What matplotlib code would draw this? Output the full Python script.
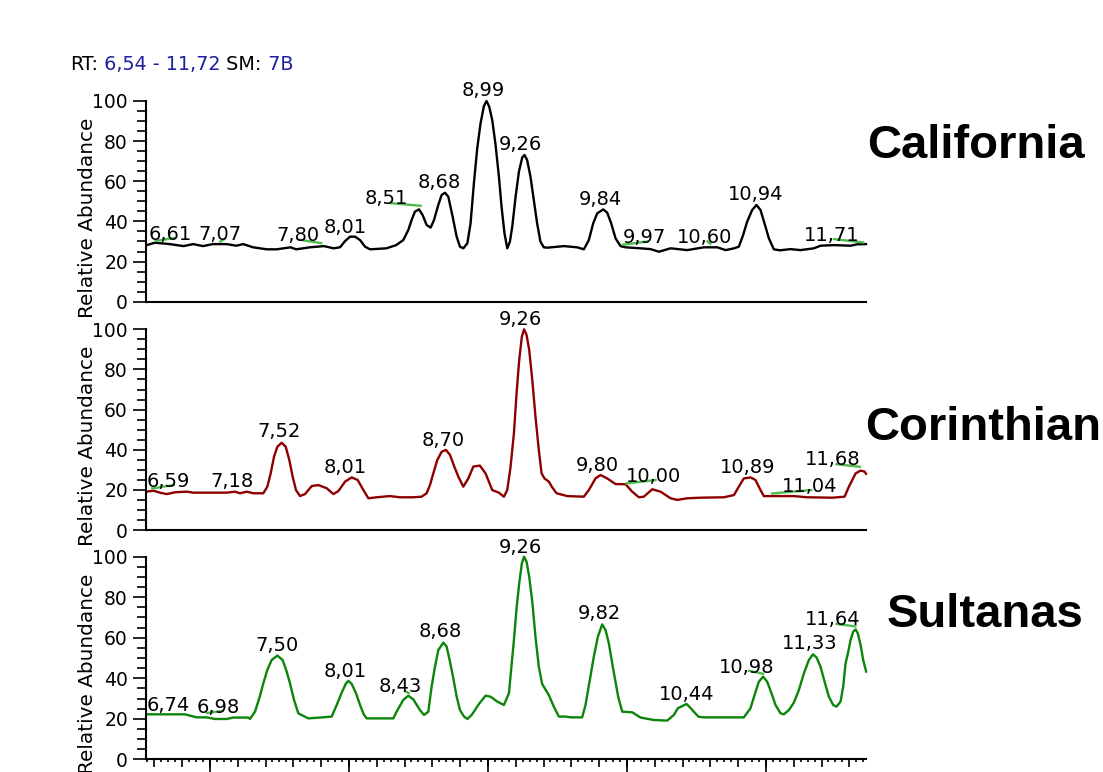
import matplotlib
matplotlib.use("Agg")
import matplotlib.pyplot as plt
from matplotlib.ticker import MultipleLocator

RT_MIN, RT_MAX = 6.54, 11.72

# California trace (RT in min, relative abundance)
cal_t = [6.545, 6.605, 6.71, 6.81, 6.88, 6.95, 7.02, 7.12, 7.19, 7.24, 7.31, 7.41, 7.48, 7.58, 7.62, 7.72,
         7.82, 7.89, 7.936, 7.972, 8.008, 8.044, 8.08, 8.116, 8.152, 8.27, 8.34, 8.391, 8.427, 8.451, 8.475,
         8.504, 8.53, 8.559, 8.588, 8.612, 8.643, 8.667, 8.691, 8.715, 8.746, 8.775, 8.799, 8.823, 8.852,
         8.875, 8.899, 8.923, 8.947, 8.971, 8.99, 9.009, 9.031, 9.055, 9.079, 9.098, 9.119, 9.139, 9.158,
         9.175, 9.199, 9.223, 9.247, 9.263, 9.282, 9.306, 9.33, 9.354, 9.378, 9.402, 9.426, 9.546, 9.642,
         9.69, 9.726, 9.757, 9.786, 9.829, 9.858, 9.887, 9.918, 9.954, 9.99, 10.098, 10.17, 10.23, 10.314,
         10.434, 10.553, 10.65, 10.71, 10.77, 10.805, 10.836, 10.865, 10.901, 10.932, 10.961, 10.99, 11.021,
         11.057, 11.1, 11.177, 11.249, 11.345, 11.393, 11.489, 11.609, 11.657, 11.72]
cal_y = [28.2, 29.4, 28.7, 27.7, 28.7, 27.7, 28.7, 28.7, 27.9, 28.7, 27.1, 26.1, 26.1, 27.1, 26.1, 27.1,
         27.7, 26.6, 27.1, 30.2, 32.4, 32.4, 30.7, 27.4, 26.1, 26.6, 28.2, 30.7, 35.7, 40.7, 44.9,
         46.0, 43.2, 38.2, 36.9, 40.7, 48.2, 53.2, 54.3, 52.3, 42.4, 32.4, 27.4, 26.6, 29.1,
         39.0, 59.0, 76.4, 88.9, 97.5, 100.0, 97.2, 90.5, 78.1, 62.3, 47.3, 34.1, 26.6, 29.9,
         37.4, 52.3, 64.8, 71.9, 73.1, 70.6, 62.3, 50.7, 39.0, 29.9, 27.1, 26.9, 27.7, 27.1,
         26.1, 30.7, 39.0, 44.0, 46.0, 44.4, 39.0, 31.6, 27.7, 27.1, 26.6, 26.2, 24.9, 26.6,
         25.7, 27.1, 27.1, 25.7, 26.6, 27.4, 33.2, 39.9, 45.7, 48.2, 45.7, 39.0, 31.6,
         26.1, 25.6, 26.2, 25.7, 26.6, 27.9, 28.2, 27.9, 28.6, 28.7]
cal_lab = ["6,61", "7,07", "7,80", "8,01", "8,51", "8,68", "8,99", "9,26", "9,84", "9,97", "10,60", "10,94", "11,71"]
cal_lab_t = [6.713, 7.075, 7.636, 7.976, 8.269, 8.648, 8.966, 9.235, 9.812, 10.124, 10.556, 10.923, 11.474]
cal_lab_y = [30.7, 30.7, 30.2, 34.4, 48.7, 56.5, 102.5, 75.6, 48.2, 29.4, 29.4, 50.7, 30.4]
cal_base = [(6.61, 30.3, 6.74, 31.7), (7.076, 30.0, 7.105, 31.2), (7.65, 30.8, 7.80, 29.2),
            (8.30, 49.1, 8.515, 47.8), (9.973, 28.4, 10.146, 30.0), (10.58, 30.0, 10.60, 28.9),
            (11.49, 31.2, 11.70, 29.5)]

# Corinthian trace
cor_t = [6.545, 6.593, 6.64, 6.689, 6.749, 6.833, 6.88, 7.0, 7.12, 7.18, 7.216, 7.264, 7.312, 7.384, 7.413,
         7.437, 7.461, 7.485, 7.516, 7.545, 7.571, 7.595, 7.619, 7.648, 7.684, 7.732, 7.78, 7.84, 7.888,
         7.924, 7.972, 8.02, 8.063, 8.104, 8.14, 8.199, 8.295, 8.367, 8.463, 8.523, 8.559, 8.583, 8.607,
         8.636, 8.667, 8.698, 8.727, 8.758, 8.787, 8.823, 8.859, 8.895, 8.942, 8.983, 9.031, 9.079, 9.115,
         9.139, 9.163, 9.187, 9.206, 9.225, 9.244, 9.26, 9.278, 9.297, 9.319, 9.342, 9.366, 9.386, 9.407,
         9.438, 9.462, 9.494, 9.57, 9.69, 9.726, 9.774, 9.81, 9.858, 9.918, 9.99, 10.038, 10.086, 10.122,
         10.182, 10.242, 10.314, 10.362, 10.434, 10.53, 10.697, 10.77, 10.805, 10.841, 10.89, 10.925,
         10.961, 10.985, 11.057, 11.201, 11.297, 11.477, 11.566, 11.597, 11.645, 11.681, 11.71, 11.72]
cor_y = [19.1, 19.6, 18.6, 17.9, 18.8, 19.1, 18.6, 18.6, 18.6, 19.1, 18.3, 19.1, 18.3, 18.3, 21.6,
         28.2, 36.5, 41.5, 43.5, 41.5, 34.9, 26.6, 19.9, 16.9, 17.9, 21.9, 22.4, 20.8, 17.9,
         19.4, 24.1, 26.2, 24.9, 19.9, 15.8, 16.3, 16.9, 16.3, 16.3, 16.6, 18.3, 22.4, 28.2,
         34.9, 39.0, 39.9, 37.4, 31.6, 26.6, 21.6, 25.7, 31.6, 32.1, 28.2, 19.9, 18.6, 16.6,
         19.9, 31.6, 48.2, 68.1, 84.7, 96.3, 100.0, 97.2, 89.7, 74.8, 56.5, 39.9, 28.2, 25.7,
         24.1, 21.3, 18.3, 16.9, 16.6, 19.9, 25.7, 27.4, 25.7, 22.9, 22.8, 19.1, 16.3, 16.6,
         20.3, 19.1, 15.8, 15.0, 15.8, 16.1, 16.3, 17.4, 21.6, 25.7, 26.2, 24.9,
         19.9, 16.9, 16.9, 16.9, 16.3, 16.1, 16.6, 21.6, 28.2, 29.6, 29.1, 28.0]
cor_lab = ["6,59", "7,18", "7,52", "8,01", "8,70", "9,26", "9,80", "10,00", "10,89", "11,04", "11,68"]
cor_lab_t = [6.703, 7.156, 7.499, 7.972, 8.677, 9.235, 9.786, 10.194, 10.87, 11.314, 11.482]
cor_lab_y = [21.6, 21.3, 46.5, 28.2, 42.0, 102.2, 29.6, 24.1, 28.2, 19.1, 32.4]
cor_base = [(6.585, 20.7, 6.74, 22.4), (9.997, 23.2, 10.206, 24.9), (11.045, 18.2, 11.326, 19.9),
            (11.508, 32.8, 11.675, 31.5)]

# Sultanas trace
sul_t = [6.545, 6.64, 6.82, 6.905, 6.976, 7.036, 7.12, 7.168, 7.276, 7.288, 7.324, 7.355, 7.384, 7.413,
         7.444, 7.485, 7.523, 7.552, 7.576, 7.605, 7.636, 7.672, 7.708, 7.792, 7.876, 7.912, 7.948, 7.979,
         7.996, 8.02, 8.051, 8.08, 8.108, 8.128, 8.224, 8.319, 8.343, 8.391, 8.427, 8.463, 8.511, 8.54,
         8.571, 8.595, 8.619, 8.643, 8.679, 8.703, 8.727, 8.751, 8.775, 8.799, 8.828, 8.852, 8.883, 8.899,
         8.935, 8.983, 9.019, 9.067, 9.115, 9.151, 9.167, 9.187, 9.206, 9.225, 9.244, 9.26, 9.278, 9.297,
         9.319, 9.342, 9.366, 9.39, 9.414, 9.438, 9.474, 9.51, 9.558, 9.594, 9.678, 9.702, 9.733, 9.762,
         9.791, 9.822, 9.846, 9.87, 9.894, 9.911, 9.937, 9.966, 10.038, 10.098, 10.194, 10.29, 10.338,
         10.366, 10.405, 10.429, 10.455, 10.481, 10.515, 10.553, 10.841, 10.889, 10.918, 10.949, 10.98,
         11.009, 11.04, 11.069, 11.105, 11.129, 11.165, 11.201, 11.237, 11.273, 11.309, 11.338, 11.364,
         11.393, 11.422, 11.453, 11.484, 11.508, 11.537, 11.556, 11.573, 11.59, 11.609, 11.628, 11.645,
         11.661, 11.681, 11.7, 11.721]
sul_y = [22.2, 22.2, 22.2, 20.7, 20.7, 19.9, 19.9, 20.6, 20.6, 19.9, 23.5, 30.1, 37.5, 44.1,
         49.0, 51.2, 49.0, 43.3, 37.5, 29.3, 22.7, 21.4, 20.2, 20.6, 21.1, 26.8, 32.9, 37.5,
         38.7, 37.2, 32.6, 26.8, 21.9, 20.2, 20.2, 20.2, 23.5, 29.3, 31.4, 29.6, 24.3, 21.9,
         23.5, 35.9, 45.7, 53.9, 57.6, 55.6, 48.2, 40.0, 30.9, 24.3, 21.1, 19.9, 21.9, 23.5,
         27.3, 31.4, 30.9, 28.5, 26.8, 32.6, 44.1, 58.9, 74.5, 86.8, 96.7, 100.0, 97.5, 90.1,
         77.8, 60.5, 45.7, 37.2, 34.5, 31.7, 26.0, 21.1, 21.1, 20.7, 20.7, 26.8, 39.1, 50.7,
         60.5, 66.6, 63.8, 57.2, 47.4, 40.8, 30.9, 23.5, 23.2, 20.6, 19.4, 19.1, 21.9,
         25.2, 26.5, 27.3, 25.5, 23.5, 21.0, 20.7, 20.7, 25.2, 31.7, 38.3, 40.8,
         38.3, 32.6, 26.8, 22.7, 22.2, 24.3, 28.0, 34.2, 42.4, 49.0, 51.8, 50.3,
         45.7, 38.3, 30.9, 26.8, 26.0, 28.5, 35.9, 47.4, 52.3, 58.9, 63.0, 64.1,
         62.2, 56.4, 49.0, 43.3]
sul_lab = ["6,74", "6,98", "7,50", "8,01", "8,43", "8,68", "9,26", "9,82", "10,44", "10,98", "11,33", "11,64"]
sul_lab_t = [6.703, 7.063, 7.48, 7.972, 8.372, 8.66, 9.235, 9.801, 10.426, 10.858, 11.314, 11.482]
sul_lab_y = [23.8, 23.0, 53.6, 40.8, 33.4, 60.2, 102.0, 69.1, 29.3, 42.8, 54.4, 66.3]
sul_base = [(6.98, 22.8, 7.09, 23.9), (8.407, 33.5, 8.43, 32.7), (10.877, 43.7, 10.98, 42.2),
            (11.508, 66.8, 11.644, 65.6)]

names = ["California", "Corinthian", "Sultanas"]

W, H = 1103, 772
fig = plt.figure(figsize=(W / 100, H / 100), dpi=100)

def rect(ytop, ybot):
    # axes rectangle from pixel positions (x fixed)
    return [146 / W, 1 - ybot / H, 720 / W, (ybot - ytop) / H]

panels = [
    (cal_t, cal_y, cal_lab, cal_lab_t, cal_lab_y, cal_base, "black", (101.0, 301.7)),
    (cor_t, cor_y, cor_lab, cor_lab_t, cor_lab_y, cor_base, "#8e0000", (329.3, 530.0)),
    (sul_t, sul_y, sul_lab, sul_lab_t, sul_lab_y, sul_base, "#0a850a", (556.7, 759.3)),
]

axes = []
for i, (t, y, lab, lt, ly, base, col, (yt, yb)) in enumerate(panels):
    ax = fig.add_axes(rect(yt, yb))
    ax.plot(t, y, color=col, lw=1.7, clip_on=False, solid_joinstyle="round")
    for s in base:
        ax.plot([s[0], s[2]], [s[1], s[3]], color="#4cbb4c", lw=1.7, clip_on=False)
    for txt, xx, yy in zip(lab, lt, ly):
        ax.text(xx, yy, txt, ha="center", va="baseline", fontsize=14)
    ax.set_xlim(RT_MIN, RT_MAX)
    ax.set_ylim(0, 100)
    ax.spines["top"].set_visible(False)
    ax.spines["right"].set_visible(False)
    ax.spines["left"].set_linewidth(1.5)
    ax.spines["bottom"].set_linewidth(1.5)
    ax.yaxis.set_major_locator(MultipleLocator(20))
    ax.yaxis.set_minor_locator(MultipleLocator(5))
    ax.tick_params(axis="y", which="major", length=9.5, width=1.2, labelsize=13.5, pad=3.5)
    ax.tick_params(axis="y", which="minor", length=6.5, width=1.2)
    ax.set_ylabel("Relative Abundance", fontsize=14.4)
    ax.yaxis.set_label_coords(-0.068, 0.42)
    if i < 2:
        ax.tick_params(axis="x", which="both", bottom=False, labelbottom=False)
    else:
        ax.xaxis.set_major_locator(MultipleLocator(0.2))
        ax.xaxis.set_minor_locator(MultipleLocator(0.05))
        ax.tick_params(axis="x", which="major", length=5.5, width=1.2, labelbottom=False)
        ax.tick_params(axis="x", which="minor", length=2.5, width=1.2)
        sec = ax.secondary_xaxis("bottom")
        sec.xaxis.set_major_locator(MultipleLocator(1))
        sec.tick_params(length=9.5, width=1.2, labelbottom=False)
        sec.spines["bottom"].set_visible(False)
    axes.append(ax)

# sample names on the right
fig.text(867 / W, 1 - 158.3 / H, names[0], fontsize=34, fontweight="bold",
         family="Liberation Sans", va="baseline")
fig.text(865 / W, 1 - 440 / H, names[1], fontsize=34, fontweight="bold",
         family="Liberation Sans", va="baseline")
fig.text(887 / W, 1 - 626.7 / H, names[2], fontsize=34, fontweight="bold",
         family="Liberation Sans", va="baseline")

# RT / SM header, pieces chained one after another
blue = "#1f1fa0"
prev = fig.text(70 / W, 1 - 70 / H, "RT:", fontsize=13.8, va="baseline", color="black")
for piece, c in [(" 6,54 - 11,72", blue), (" SM:", "black"), (" 7B", blue)]:
    prev = axes[0].annotate(piece, xy=(1, 0), xycoords=prev, va="bottom", ha="left",
                            fontsize=13.8, color=c, annotation_clip=False)

fig.savefig("out.png", dpi=100)
